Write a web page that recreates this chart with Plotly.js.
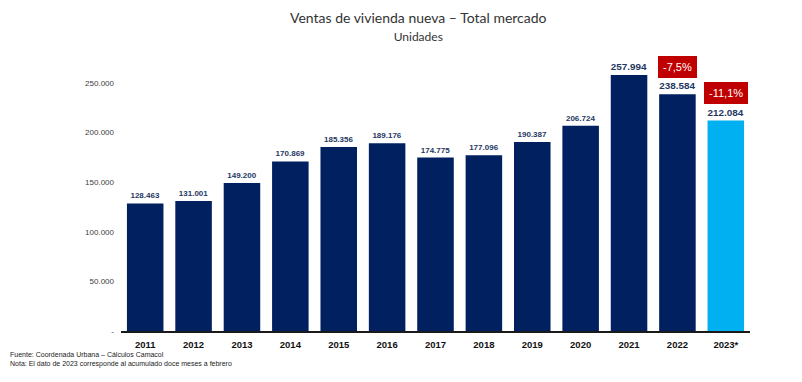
<!DOCTYPE html>
<html>
<head>
<meta charset="utf-8">
<script src="https://cdn.plot.ly/plotly-3.0.1.min.js"></script>
<style>html,body{margin:0;padding:0;background:#fff;}#chart{width:802px;height:382px;}</style>
</head>
<body>
<div id="chart"></div>
<script>
var years = ["2011","2012","2013","2014","2015","2016","2017","2018","2019","2020","2021","2022","2023*"];
var sales = [128463,131001,149200,170869,185356,189176,174775,177096,190387,206724,257994,238584,212084];
var valueLabels = ["128.463","131.001","149.200","170.869","185.356","189.176","174.775","177.096","190.387","206.724","257.994","238.584","212.084"];
var changeLabels = [{year:"2022", text:"-7,5%"},{year:"2023*", text:"-11,1%"}];
var yTickVals = [0,50000,100000,150000,200000,250000];
var yTickText = ["-","50.000","100.000","150.000","200.000","250.000"];

var barColors = years.map(function(y){ return y === "2023*" ? "#00B0F0" : "#002060"; });
var labelSizes = years.map(function(y, i){ return i >= 10 ? 11 : 8; });

var trace = {
  type: "bar",
  x: years,
  y: sales,
  marker: {color: barColors},
  text: valueLabels,
  textposition: "outside",
  cliponaxis: false,
  textfont: {family: "Liberation Sans, Arial, sans-serif", size: labelSizes, color: "#1F3864", weight: "bold"},
  hoverinfo: "none"
};

var annotations = changeLabels.map(function(c){
  var idx = years.indexOf(c.year);
  return {
    x: idx, y: sales[idx], xref: "x", yref: "y",
    text: c.text, showarrow: false, yshift: 27,
    bgcolor: "#C00000", borderpad: 4, bordercolor: "#C00000", borderwidth: 1,
    font: {family: "Liberation Sans, Arial, sans-serif", size: 11, color: "#ffffff"}
  };
});
annotations.push({
  xref: "paper", yref: "paper", x: -0.18, y: -0.068, xanchor: "left", yanchor: "top",
  align: "left", showarrow: false,
  text: "Fuente: Coordenada Urbana – Cálculos Camacol<br>Nota: El dato de 2023 corresponde al acumulado doce meses a febrero",
  font: {family: "Liberation Sans, Arial, sans-serif", size: 7, color: "#222"}
});

var layout = {
  width: 802, height: 382,
  margin: {l: 121, r: 52, t: 63, b: 51},
  paper_bgcolor: "#fff", plot_bgcolor: "#fff",
  title: {
    text: "Ventas de vivienda nueva – Total mercado<br><span style='font-size:12px'>Unidades</span>",
    font: {family: "Lato, Open Sans, sans-serif", size: 14, color: "#333"},
    x: 0.4726, xanchor: "center", xref: "paper", y: 0.94, yanchor: "top", yref: "container"
  },
  bargap: 0.245,
  showlegend: false,
  xaxis: {
    type: "category",
    range: [-0.5, 12.5],
    showline: true, linecolor: "#1a1a1a", linewidth: 1.5,
    ticks: "", showgrid: false,
    tickfont: {family: "Liberation Sans, Arial, sans-serif", size: 9.5, color: "#111", weight: "bold"},
    ticklabelstandoff: 4
  },
  yaxis: {
    range: [0, 270000],
    tickvals: yTickVals, ticktext: yTickText,
    showgrid: false, zeroline: false, showline: false, ticks: "",
    tickfont: {family: "Liberation Sans, Arial, sans-serif", size: 8, color: "#404040"},
    ticklabelstandoff: 6
  },
  annotations: annotations
};

Plotly.newPlot("chart", [trace], layout, {displayModeBar: false, staticPlot: true});
</script>
</body>
</html>
